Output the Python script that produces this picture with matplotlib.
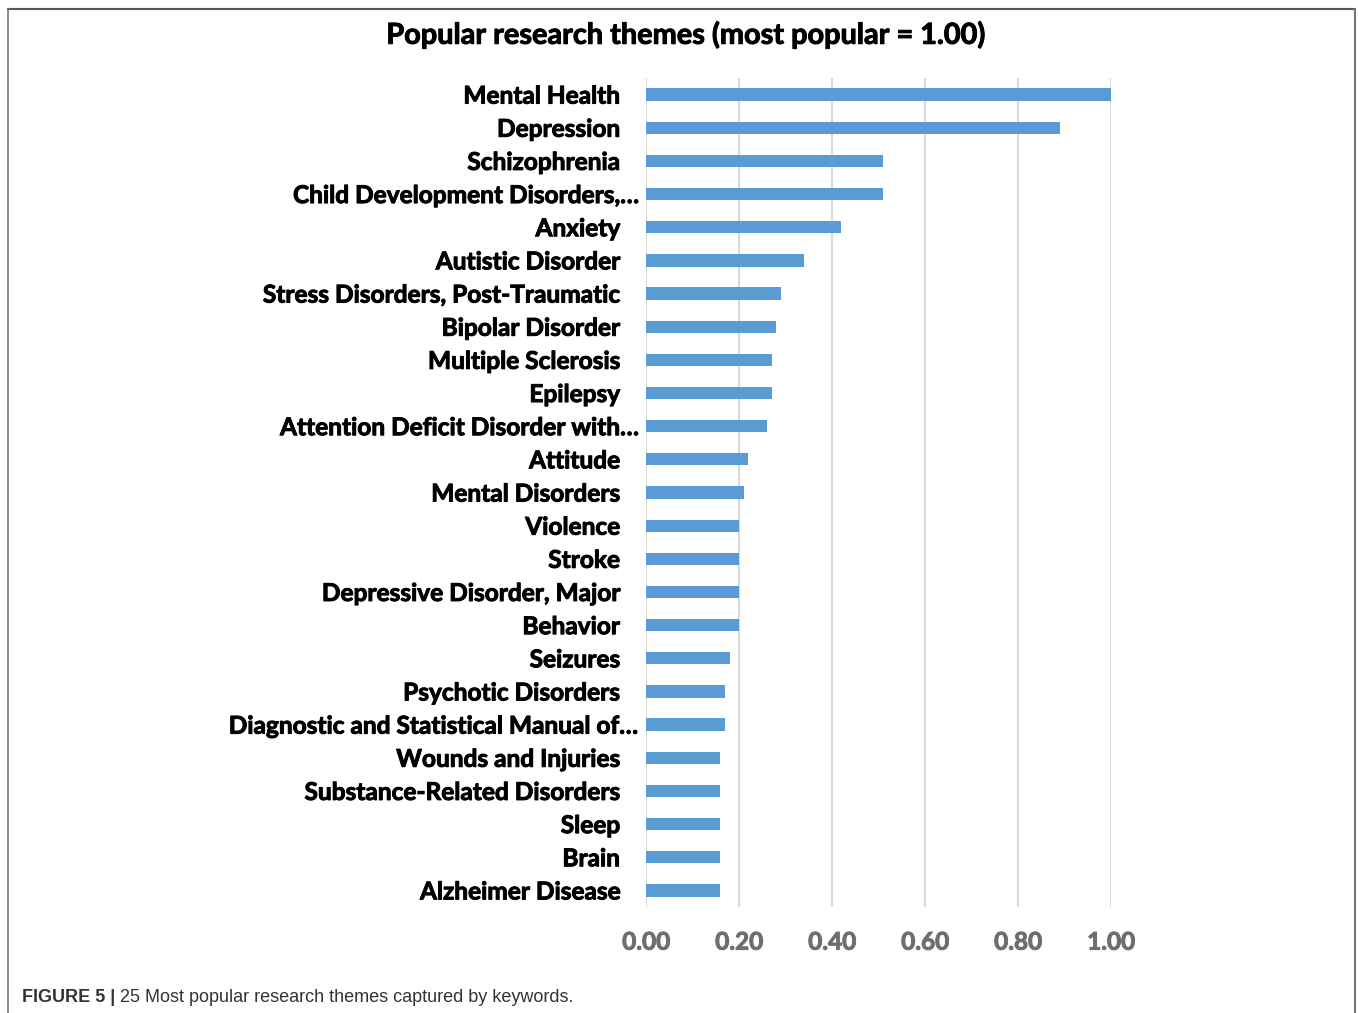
import matplotlib
matplotlib.use('Agg')
import matplotlib.pyplot as plt
import matplotlib.patheffects as pe
from matplotlib.lines import Line2D
from matplotlib.transforms import offset_copy

# ── Data ──────────────────────────────────────────────────────
themes = [
    'Mental Health', 'Depression', 'Schizophrenia',
    'Child Development Disorders,\u2026', 'Anxiety', 'Autistic Disorder',
    'Stress Disorders, Post-Traumatic', 'Bipolar Disorder',
    'Multiple Sclerosis', 'Epilepsy', 'Attention Deficit Disorder with\u2026',
    'Attitude', 'Mental Disorders', 'Violence', 'Stroke',
    'Depressive Disorder, Major', 'Behavior', 'Seizures',
    'Psychotic Disorders', 'Diagnostic and Statistical Manual of\u2026',
    'Wounds and Injuries', 'Substance-Related Disorders', 'Sleep', 'Brain',
    'Alzheimer Disease',
]
scores = [1.00, 0.89, 0.51, 0.51, 0.42, 0.34, 0.29, 0.28, 0.27, 0.27,
          0.26, 0.22, 0.21, 0.20, 0.20, 0.20, 0.20, 0.18, 0.17, 0.17,
          0.16, 0.16, 0.16, 0.16, 0.16]
xticks = [0.0, 0.2, 0.4, 0.6, 0.8, 1.0]

font = ['Lato', 'DejaVu Sans']
bar_color = '#5b9bd5'

def heavy(color):
    # Lato bold is a touch lighter than the original Calibri bold
    return [pe.withStroke(linewidth=0.7, foreground=color)]

# ── Figure ────────────────────────────────────────────────────
fig = plt.figure(figsize=(13.58, 10.13), dpi=100)
ax = fig.add_axes([646 / 1358, 1 - 907 / 1013, 465 / 1358, 829 / 1013])

ypos = list(range(len(themes)))
ax.barh(ypos, scores, height=0.37, color=bar_color, zorder=3)
ax.set_ylim(len(themes) - 0.5, -0.5)
ax.set_xlim(0, 1.0)

ax.set_xticks(xticks)
ax.set_xticklabels([f'{t:.2f}' for t in xticks], family=font,
                   fontweight='bold', fontsize=17.5, color='#6e6e6e',
                   path_effects=heavy('#6e6e6e'))
ax.tick_params(axis='x', length=0, pad=17)
ax.set_yticks([])
ax.grid(axis='x', color='#d9d9d9', linewidth=1.5, zorder=0)
for s in ax.spines.values():
    s.set_visible(False)

# category labels, truncated ones sit a bit further right (Excel style)
ytrans = ax.get_yaxis_transform()
for i, name in enumerate(themes):
    dx = -8 if name.endswith('\u2026') else -26
    tr = offset_copy(ytrans, fig=fig, x=dx, y=-1.5, units='dots')
    ax.text(0, i, name, transform=tr, ha='right', va='center',
            family=font, fontweight='bold', fontsize=17.6, color='black',
            path_effects=heavy('black'))

fig.text(686 / 1358, 1 - 35 / 1013, 'Popular research themes (most popular = 1.00)',
         ha='center', va='center', family=font, fontweight='bold',
         fontsize=20.8, color='black', path_effects=heavy('black'))

# frame around the figure panel
fig.add_artist(Line2D([8 / 1358, 1355 / 1358], [1 - 9 / 1013] * 2,
                      transform=fig.transFigure, color='#555555', linewidth=1.5))
fig.add_artist(Line2D([8 / 1358] * 2, [0, 1 - 9 / 1013],
                      transform=fig.transFigure, color='#777777', linewidth=1.2))
fig.add_artist(Line2D([1355 / 1358] * 2, [0, 1 - 9 / 1013],
                      transform=fig.transFigure, color='#777777', linewidth=1.5))

# caption
cap_font = ['Liberation Sans Narrow', 'Liberation Sans', 'DejaVu Sans']
t1 = fig.text(22 / 1358, 1 - 997 / 1013, 'FIGURE 5 |', ha='left', va='center',
              family=cap_font, fontweight='bold', fontsize=13, color='#333333')
fig.canvas.draw()
bb = t1.get_window_extent(renderer=fig.canvas.get_renderer())
fig.text((bb.x1 + 5) / 1358, 1 - 997 / 1013,
         '25 Most popular research themes captured by keywords.',
         ha='left', va='center', family=cap_font, fontsize=13, color='#333333')

plt.savefig('out.png', dpi=100)
plt.close()
